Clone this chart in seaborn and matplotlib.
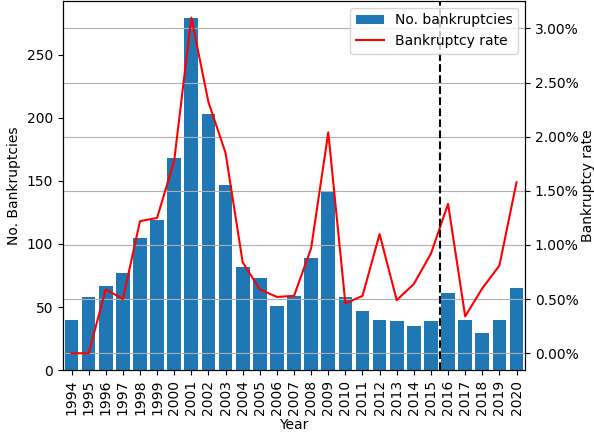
"""Bankruptcies per year: bar count + bankruptcy rate on twin axis."""

import matplotlib

matplotlib.use("Agg")
import matplotlib.pyplot as plt
import numpy as np
import pandas as pd
import seaborn as sns
from matplotlib.ticker import PercentFormatter

YEARS = list(range(1994, 2021))
N_BANKRUPTCIES = [
    40, 58, 67, 77, 105, 119, 168, 279, 203, 147, 82, 73, 51, 59,
    89, 141, 58, 47, 40, 39, 35, 39, 61, 40, 29, 40, 65,
]
BANKRUPTCY_RATE = [
    0.0000, 0.0000, 0.0059, 0.0050, 0.0122, 0.0125, 0.0178, 0.0310,
    0.0232, 0.0185, 0.0084, 0.0059, 0.0052, 0.0053, 0.0097, 0.0204,
    0.0046, 0.0053, 0.0110, 0.0049, 0.0064, 0.0092, 0.0138, 0.0034,
    0.0060, 0.0081, 0.0158,
]
SPLIT_YEAR = 2015.5

df = pd.DataFrame(
    {
        "Year": [str(y) for y in YEARS],
        "count": N_BANKRUPTCIES,
        "rate": BANKRUPTCY_RATE,
        "pos": np.arange(len(YEARS)),
    }
)

fig, ax1 = plt.subplots(figsize=(5.94, 4.32), dpi=100)
fig.subplots_adjust(left=0.106, right=0.884, top=0.998, bottom=0.1435)

sns.barplot(
    data=df, x="Year", y="count", color="#1f77b4", saturation=1,
    width=0.8, ax=ax1, label="No. bankruptcies",
)
ax1.set_xlabel("Year", labelpad=2)
ax1.set_ylabel("No. Bankruptcies")
ax1.tick_params(axis="x", rotation=90)

ax2 = ax1.twinx()
sns.lineplot(
    data=df, x="pos", y="rate", color="red", ax=ax2, label="Bankruptcy rate",
)
split_pos = SPLIT_YEAR - YEARS[0]
ax2.axvline(split_pos, color="k", linestyle="--", linewidth=1.5)
ax2.yaxis.set_major_formatter(PercentFormatter(xmax=1, decimals=2))
ax2.set_ylabel("Bankruptcy rate", labelpad=2)
ax2.grid(True, axis="y")
ax2.set_xlim(-0.5, len(YEARS) - 0.5)

h1, l1 = ax1.get_legend_handles_labels()
h2, l2 = ax2.get_legend_handles_labels()
if ax1.get_legend() is not None:
    ax1.get_legend().remove()
ax2.legend(h1 + h2, l1 + l2, loc="upper right")

fig.savefig("out.png", dpi=100)
